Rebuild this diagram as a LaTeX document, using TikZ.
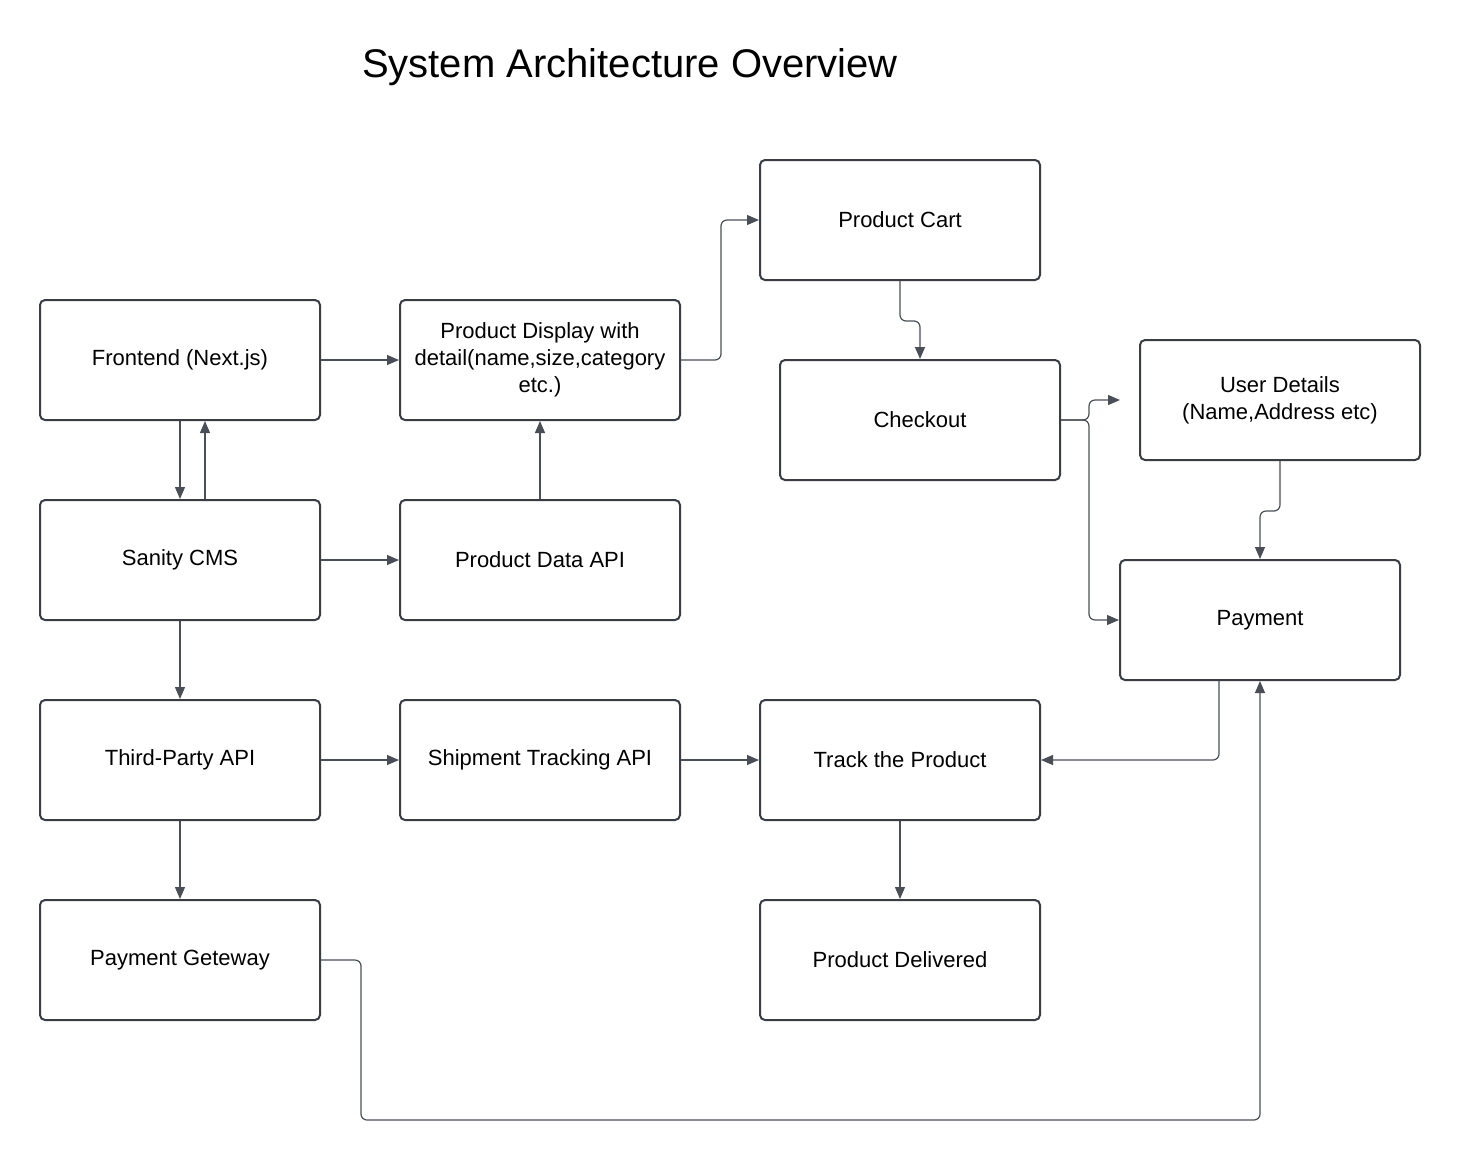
\documentclass[tikz,border=0pt]{standalone}
\usepackage{fontspec}
\setmainfont{Liberation Sans}
\usetikzlibrary{arrows.meta}
\definecolor{boxline}{HTML}{3A3E44}
\definecolor{connline}{HTML}{4A4F57}
\tikzset{
  box/.style={draw=boxline, line width=2pt, rounded corners=5pt, minimum width=280pt, minimum height=120pt, align=center, font=\fontsize{22}{27}\selectfont, text=black, inner sep=4pt},
  conn/.style={draw=connline, line width=1.2pt, rounded corners=6pt, -{Triangle[length=12pt,width=10pt]}}
}
\begin{document}
\begin{tikzpicture}[x=1pt,y=-1pt]
\useasboundingbox[fill=white] (0,0) rectangle (1460,1160);
\node[font=\fontsize{40}{48}\selectfont] (title) at (630,67) {System Architecture Overview};

\node[box] (fe) at (180,360) {Frontend (Next.js)};
\node[box] (pd) at (540,360) {Product Display with\\detail(name,size,category\\etc.)};
\node[box] (cart) at (900,220) {Product Cart};
\node[box] (co) at (920,420) {Checkout};
\node[box] (ud) at (1280,400) {User Details\\(Name,Address etc)};
\node[box] (cms) at (180,560) {Sanity CMS};
\node[box] (api) at (540,560) {Product Data API};
\node[box] (pay) at (1260,620) {Payment};
\node[box] (tp) at (180,760) {Third-Party API};
\node[box] (ship) at (540,760) {Shipment Tracking API};
\node[box] (track) at (900,760) {Track the Product};
\node[box] (gw) at (180,960) {Payment Geteway};
\node[box] (deliv) at (900,960) {Product Delivered};

\coordinate (udin) at (1120,400);

\draw[conn] (fe.east) -- (pd.west);
\draw[conn] (fe.south) -- (cms.north);
\draw[conn] ([xshift=25pt]cms.north) -- ([xshift=25pt]fe.south);
\draw[conn] (api.north) -- (pd.south);
\draw[conn] (cms.east) -- (api.west);
\draw[conn] (cms.south) -- (tp.north);
\draw[conn] (tp.east) -- (ship.west);
\draw[conn] (ship.east) -- (track.west);
\draw[conn] (tp.south) -- (gw.north);
\draw[conn] (track.south) -- (deliv.north);
\draw[conn] (pd.east) -- ++(40,0) |- (cart.west);
\draw[conn] (cart.south) -- ++(0,40) -| (co.north);
\draw[conn] (co.east) -- ++(28,0) |- (udin);
\draw[conn] (co.east) -- ++(28,0) |- (pay.west);
\draw[conn] (ud.south) -- ++(0,50) -| (pay.north);
\draw[conn] ([xshift=-41pt]pay.south) |- (track.east);
\draw[conn] (gw.east) -- ++(40,0) -- ++(0,160) -| (pay.south);
\end{tikzpicture}
\end{document}
